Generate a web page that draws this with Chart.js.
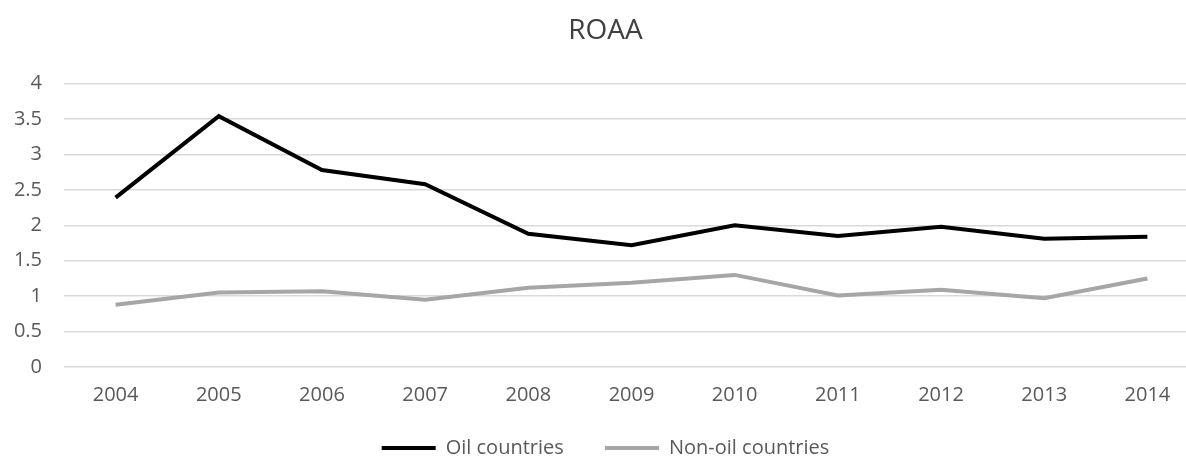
<!DOCTYPE html>
<html>
<head>
<meta charset="utf-8">
<script src="https://cdn.jsdelivr.net/npm/chart.js@4"></script>
<style>
  html, body { margin: 0; padding: 0; background: #ffffff; overflow: hidden; }
  #wrap { width: 1224px; height: 459px; }
</style>
</head>
<body>
<div id="wrap"><canvas id="roaaChart" width="1224" height="459"></canvas></div>
<script>
const years = ["2004", "2005", "2006", "2007", "2008", "2009", "2010", "2011", "2012", "2013", "2014"];
const oilCountries = [2.39, 3.54, 2.78, 2.58, 1.88, 1.72, 2.0, 1.85, 1.98, 1.81, 1.84];
const nonOilCountries = [0.88, 1.05, 1.07, 0.95, 1.12, 1.19, 1.3, 1.01, 1.09, 0.97, 1.25];

const tickFont = { family: "'Open Sans', sans-serif", size: 20 };

const ctx = document.getElementById("roaaChart").getContext("2d");

new Chart(ctx, {
  type: "line",
  data: {
    labels: years,
    datasets: [
      {
        label: "Oil countries",
        data: oilCountries,
        borderColor: "#000000",
        backgroundColor: "#000000",
        borderWidth: 4,
        pointRadius: 0,
        tension: 0,
      },
      {
        label: "Non-oil countries",
        data: nonOilCountries,
        borderColor: "#a6a6a6",
        backgroundColor: "#a6a6a6",
        borderWidth: 4,
        pointRadius: 0,
        tension: 0,
      },
    ],
  },
  options: {
    responsive: false,
    animation: false,
    // negative bottom pad pulls the legend down to the edge
    layout: {
      padding: { left: 12, right: 25, top: 0, bottom: -9 },
    },
    plugins: {
      title: {
        display: true,
        text: "ROAA",
        color: "#404040",
        font: { family: "'Open Sans', sans-serif", size: 28, weight: "normal" },
        padding: { top: 14, bottom: 36 },
      },
      legend: {
        position: "bottom",
        labels: {
          color: "#595959",
          font: tickFont,
          boxWidth: 54,
          boxHeight: 4,
          padding: 10,
          generateLabels: (chart) =>
            Chart.defaults.plugins.legend.labels.generateLabels(chart).map((item, i) => {
              item.lineWidth = 0;
              // wider gap between the two entries, like the original
              if (i === 0) item.text = item.text + "      ";
              return item;
            }),
        },
      },
      tooltip: { enabled: false },
    },
    scales: {
      x: {
        offset: true,
        afterFit: (scale) => {
          scale.height = 61;
        },
        grid: { display: false },
        border: { display: false },
        ticks: { color: "#595959", font: tickFont, padding: 8 },
      },
      y: {
        min: 0,
        max: 4,
        afterFit: (scale) => {
          scale.width = 52;
        },
        grid: { color: "#d9d9d9", lineWidth: 1.5, drawTicks: false },
        border: { display: false },
        ticks: {
          color: "#595959",
          font: tickFont,
          stepSize: 0.5,
          padding: 22,
          callback: (value) => String(value),
        },
      },
    },
  },
});
</script>
</body>
</html>
